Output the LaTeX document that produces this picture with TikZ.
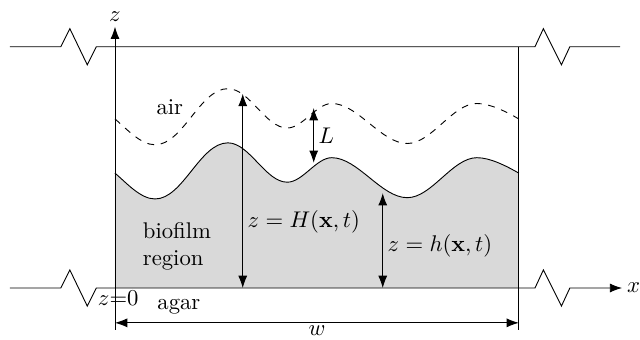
\documentclass[tikz,border=0pt]{standalone}
\usepackage{amsmath,amssymb,bm}
\usepackage{tikz}
\usetikzlibrary{arrows.meta,positioning,calc}
\definecolor{film}{gray}{0.85}
\tikzset{axis/.style={-{Latex[length=1.9mm,width=1.4mm]},thin},dim/.style={{Latex[length=1.9mm,width=1.4mm]}-{Latex[length=1.9mm,width=1.4mm]},thin},lbl/.style={font=\normalsize,inner sep=2pt},wave/.style={looseness=0.78}}
\newcommand{\filmtop}{(0,1.78) to[out=-40,in=180] (0.62,1.38) to[out=0,in=180] (1.75,2.25) to[out=0,in=180] (2.67,1.64) to[out=0,in=180] (3.36,2.02) to[out=0,in=180] (4.53,1.40) to[out=0,in=180] (5.61,2.02) to[out=0,in=150] (6.26,1.78)}

\begin{document}
\begin{tikzpicture}[x=1cm,y=1cm]
\useasboundingbox (-1.7825,-0.7905) rectangle (8.1375,4.464);
\coordinate (O) at (0,0);
\coordinate (W) at (6.26,0);
\coordinate (zbot) at (0,-0.65);
\coordinate (ztop) at (0,4.05);
\coordinate (xend) at (7.86,0);
\coordinate (wl) at (0,-0.54);
\coordinate (wr) at (6.26,-0.54);
\coordinate (Hbot) at (1.98,0);
\coordinate (Htop) at (1.98,3.01);
\coordinate (Ltop) at (3.08,2.79);
\coordinate (Lbot) at (3.08,1.94);
\coordinate (hbot) at (4.15,0);
\coordinate (htop) at (4.15,1.47);
% biofilm and free surface
\fill[film,wave] (O) -- \filmtop -- (W) -- cycle;
\draw[wave] \filmtop;
\draw[wave,dashed,yshift=0.84cm] \filmtop;
% top and bottom lines with breaks
\draw (-1.63,3.74) -- (-0.84,3.74) -- ++(0.14,0.28) -- ++(0.27,-0.56) -- ++(0.14,0.28) -- (6.51,3.74) -- ++(0.13,0.28) -- ++(0.28,-0.56) -- ++(0.13,0.28) -- (7.83,3.74);
\draw[axis] (-1.63,0) -- (-0.84,0) -- ++(0.14,0.28) -- ++(0.27,-0.56) -- ++(0.14,0.28) -- (6.51,0) -- ++(0.13,0.28) -- ++(0.28,-0.56) -- ++(0.13,0.28) -- (xend) node[right,lbl] (xlab) {$x$};
\draw[axis] (zbot) -- (ztop) node[above,lbl] (zlab) {$z$};
\draw (6.26,3.74) -- (6.26,-0.65);
% dimensions
\draw[dim] (Hbot) -- node[right,lbl,pos=0.34] (Hlab) {$z=H(\mathbf{x},t)$} (Htop);
\draw[dim] (Ltop) -- node[right,lbl] (Llab) {$L$} (Lbot);
\draw[dim] (hbot) -- node[right,lbl,pos=0.44] (hlab) {$z=h(\mathbf{x},t)$} (htop);
\draw[dim] (wl) -- node[below,inner sep=1pt] (wlab) {$w$} (wr);
% labels
\node[lbl] (air) at (0.85,2.81) {air};
\node[lbl,align=left] (biofilm) at (0.96,0.64) {biofilm\\region};
\node[lbl] (agar) at (0.99,-0.29) {agar};
\node[inner sep=0pt] (zero) at (0.05,-0.155) {$z{=}0$};
\end{tikzpicture}
\end{document}
